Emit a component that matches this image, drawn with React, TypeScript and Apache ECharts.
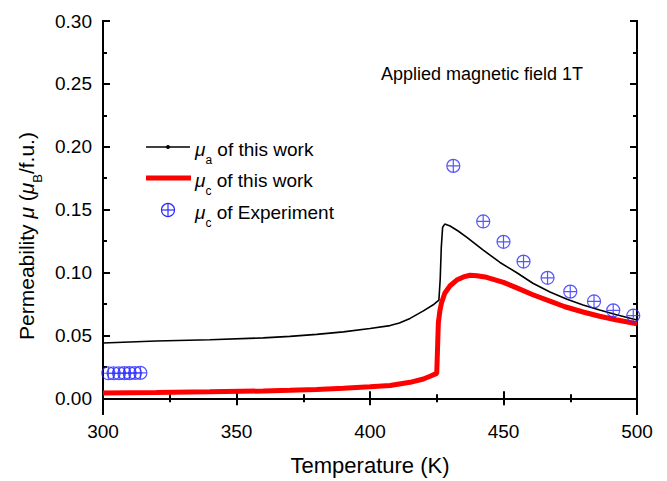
import React, { useEffect, useRef } from "react";
import * as echarts from "echarts";

const FONT = "'Liberation Sans', Arial, sans-serif";

// Temperature (K) vs permeability
const muAThisWork: [number, number][] = [
  [300, 0.044], [320, 0.0455], [340, 0.0466], [360, 0.048], [370, 0.0492],
  [380, 0.0508], [390, 0.0528], [400, 0.0555], [407.5, 0.0578], [411, 0.0598],
  [415, 0.0635], [420, 0.0695], [424, 0.0748], [425.8, 0.078], [426.3, 0.095],
  [426.7, 0.12], [427.2, 0.136], [428, 0.1385], [430, 0.137], [433, 0.133],
  [436.3, 0.128], [442.3, 0.118], [448.7, 0.108], [455, 0.0998], [461, 0.0915],
  [467.4, 0.0845], [473.8, 0.0788], [479.8, 0.0742], [486, 0.0702], [492, 0.0666],
  [498.5, 0.063], [500, 0.0622],
];

const muCThisWork: [number, number][] = [
  [300, 0.0042], [320, 0.0046], [340, 0.0051], [360, 0.0058], [370, 0.0063],
  [380, 0.007], [390, 0.0079], [400, 0.0091], [407.5, 0.0102], [415, 0.0127],
  [420, 0.0153], [422.5, 0.0175], [425, 0.0198], [425.3, 0.04], [425.6, 0.06],
  [426.2, 0.07], [426.8, 0.076], [428, 0.0835], [430, 0.0895], [432.5, 0.094],
  [435, 0.0965], [437.5, 0.0978], [440, 0.0975], [443.7, 0.0962], [450, 0.0922],
  [455, 0.0878], [461, 0.0823], [467.4, 0.0772], [473, 0.0728], [479.8, 0.0686],
  [486, 0.0652], [492, 0.0625], [498.5, 0.0598], [500, 0.0592],
];

const muCExperiment: [number, number][] = [
  [302, 0.0199], [304, 0.0199], [306, 0.0199], [308, 0.02], [310, 0.02],
  [312, 0.0201], [314, 0.0202],
  [431.2, 0.1848], [442.4, 0.1406], [450, 0.1244], [457.5, 0.1087],
  [466.5, 0.0958], [475, 0.0848], [483.9, 0.077], [491.1, 0.0699], [498.6, 0.0657],
];

const yMajorTicks = [0, 0.05, 0.1, 0.15, 0.2, 0.25, 0.3];
const yMinorTicks = [0.025, 0.075, 0.125, 0.175, 0.225, 0.275];

const CIRCLE_PLUS =
  "path://M10,0 A10,10 0 1 1 -10,0 A10,10 0 1 1 10,0 Z M-10,0 L10,0 M0,-10 L0,10";

const BLUE = "#2a2aff";

export default function App() {
  const ref = useRef<HTMLDivElement>(null);

  useEffect(() => {
    document.body.style.margin = "0";
    if (!ref.current) return;
    const chart = echarts.init(ref.current, undefined, { renderer: "svg" });

    const axisLine = { show: true, lineStyle: { color: "#000", width: 2 } };
    const baseX = {
      type: "value" as const,
      min: 300,
      max: 500,
      interval: 50,
      axisLine,
      splitLine: { show: false },
      axisTick: { inside: true, length: 7, lineStyle: { color: "#000", width: 2 } },
      minorTick: { show: true, splitNumber: 2, length: 4, lineStyle: { color: "#000", width: 2 } },
    };
    const baseY = {
      type: "value" as const,
      min: -0.0125,
      max: 0.3,
      axisLine,
      splitLine: { show: false },
    };

    const legendRich = {
      n: { fontFamily: FONT, fontSize: 19, color: "#000", lineHeight: 34 },
      i: { fontFamily: FONT, fontSize: 19, fontStyle: "italic", color: "#000", lineHeight: 34 },
      s: { fontFamily: FONT, fontSize: 12, color: "#000", lineHeight: 10, verticalAlign: "bottom" },
    };
    const titleRich = {
      n: { fontFamily: FONT, fontSize: 21, color: "#000", lineHeight: 36 },
      i: { fontFamily: FONT, fontSize: 21, fontStyle: "italic", color: "#000", lineHeight: 36 },
      s: { fontFamily: FONT, fontSize: 13, color: "#000", lineHeight: 11, verticalAlign: "bottom" },
    };

    chart.setOption({
      animation: false,
      grid: { left: 103, right: 30, top: 21, bottom: 62, containLabel: false },
      xAxis: [
        {
          ...baseX,
          position: "bottom",
          axisLabel: { fontFamily: FONT, fontSize: 19, color: "#000", margin: 8 },
          name: "Temperature (K)",
          nameLocation: "middle",
          nameGap: 40,
          nameTextStyle: { fontFamily: FONT, fontSize: 22, color: "#000" },
        },
        { ...baseX, position: "top", axisLabel: { show: false } },
      ],
      yAxis: [
        {
          ...baseY,
          position: "left",
          axisTick: {
            inside: true, length: 7, customValues: yMajorTicks,
            lineStyle: { color: "#000", width: 2 },
          },
          axisLabel: {
            fontFamily: FONT, fontSize: 19, color: "#000", margin: 11,
            customValues: yMajorTicks,
            formatter: (v: number) => v.toFixed(2),
          },
        },
        {
          ...baseY,
          position: "left",
          axisTick: {
            inside: true, length: 4, customValues: yMinorTicks,
            lineStyle: { color: "#000", width: 2 },
          },
          axisLabel: { show: false },
        },
        {
          ...baseY,
          position: "right",
          axisTick: {
            inside: true, length: 7, customValues: yMajorTicks,
            lineStyle: { color: "#000", width: 2 },
          },
          axisLabel: { show: false },
        },
        {
          ...baseY,
          position: "right",
          axisTick: {
            inside: true, length: 4, customValues: yMinorTicks,
            lineStyle: { color: "#000", width: 2 },
          },
          axisLabel: { show: false },
        },
      ],
      series: [
        {
          type: "line",
          name: "mu_a of this work",
          data: muAThisWork,
          showSymbol: false,
          symbol: "none",
          lineStyle: { color: "#000", width: 1.6 },
          z: 3,
        },
        {
          type: "line",
          name: "mu_c of this work",
          data: muCThisWork,
          showSymbol: false,
          symbol: "none",
          lineStyle: { color: "#ff0000", width: 5 },
          z: 2,
        },
        {
          type: "scatter",
          name: "mu_c of Experiment",
          data: muCExperiment,
          symbol: CIRCLE_PLUS,
          symbolSize: 13,
          itemStyle: { color: "rgba(0,0,0,0)", borderColor: BLUE, borderWidth: 1.2 },
          z: 4,
        },
      ],
      graphic: [
        // Y axis title
        {
          type: "text",
          x: 26,
          y: 236,
          rotation: Math.PI / 2,
          style: {
            text: "{n|Permeability }{i|μ}{n| (}{i|μ}{s|B}{n|/f.u.)}",
            rich: titleRich,
            align: "center",
            verticalAlign: "middle",
          },
        },
        // Annotation
        {
          type: "text",
          x: 583,
          y: 74,
          style: {
            text: "Applied magnetic field 1T",
            fontFamily: FONT,
            fontSize: 18,
            fill: "#000",
            align: "right",
            verticalAlign: "middle",
          },
        },
        // Legend
        { type: "line", shape: { x1: 146, y1: 147, x2: 190, y2: 147 }, style: { stroke: "#000", lineWidth: 1.6 } },
        { type: "circle", shape: { cx: 168, cy: 147, r: 2 }, style: { fill: "#000" } },
        {
          type: "text", x: 195, y: 149,
          style: { text: "{i|μ}{s|a}{n| of this work}", rich: legendRich, align: "left", verticalAlign: "middle" },
        },
        { type: "line", shape: { x1: 146, y1: 178, x2: 191, y2: 178 }, style: { stroke: "#ff0000", lineWidth: 5 } },
        {
          type: "text", x: 195, y: 180,
          style: { text: "{i|μ}{s|c}{n| of this work}", rich: legendRich, align: "left", verticalAlign: "middle" },
        },
        { type: "circle", shape: { cx: 168, cy: 210, r: 6.5 }, style: { fill: "none", stroke: BLUE, lineWidth: 1.2 } },
        { type: "line", shape: { x1: 161.5, y1: 210, x2: 174.5, y2: 210 }, style: { stroke: BLUE, lineWidth: 1.2 } },
        { type: "line", shape: { x1: 168, y1: 203.5, x2: 168, y2: 216.5 }, style: { stroke: BLUE, lineWidth: 1.2 } },
        {
          type: "text", x: 195, y: 212,
          style: { text: "{i|μ}{s|c}{n| of Experiment}", rich: legendRich, align: "left", verticalAlign: "middle" },
        },
      ],
    });

    return () => chart.dispose();
  }, []);

  return (
    <div
      ref={ref}
      style={{ position: "absolute", left: 0, top: 0, width: 667, height: 481, background: "#fff" }}
    />
  );
}
